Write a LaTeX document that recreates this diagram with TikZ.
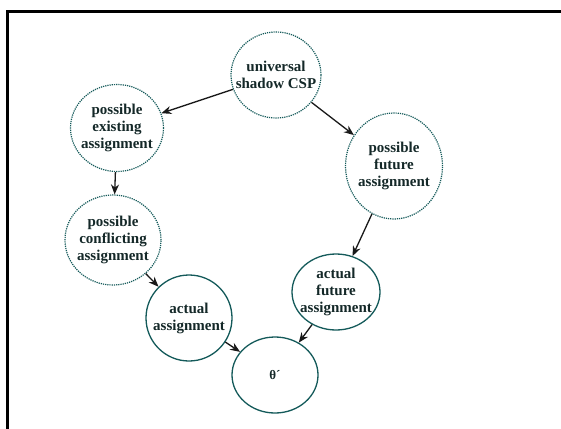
\documentclass[tikz,border=0pt]{standalone}
\usepackage{fontspec}
\setmainfont{Liberation Serif}
\usetikzlibrary{arrows.meta,shapes.geometric}
\definecolor{circ}{RGB}{20,90,90}
\definecolor{txt}{RGB}{20,40,40}
\tikzset{
  dotcirc/.style={ellipse, draw=circ, densely dotted, line width=1.2pt, inner sep=0pt},
  solcirc/.style={ellipse, draw=circ, line width=1.3pt, inner sep=0pt},
  lbl/.style={font=\fontsize{15}{17}\selectfont\bfseries, text=txt, align=center},
  conn/.style={draw=black!90, line width=1.3pt, -{Stealth[length=10pt,width=8pt]}},
}
\begin{document}
\begin{tikzpicture}[x=1pt,y=-1pt]
\useasboundingbox (0,0) rectangle (561,428);
\fill[white] (0,0) rectangle (561,428);
\draw[line width=3pt] (7.5,430) -- (7.5,11.5) -- (563,11.5);
\newcommand{\circnode}[6]{%
  \node[#1, minimum width=#4pt, minimum height=#5pt] (#2) at #3 {};
  \node[lbl] at (#2.center) {#6};}
\circnode{dotcirc}{usc}{(276,75)}{90}{86}{universal\\shadow CSP}
\circnode{dotcirc}{pea}{(117,128)}{93}{87}{possible\\existing\\assignment}
\circnode{dotcirc}{pfa}{(394,166)}{97}{106}{possible\\future\\assignment}
\circnode{dotcirc}{pca}{(113,240)}{96}{90}{possible\\conflicting\\assignment}
\circnode{solcirc}{aa}{(189,318)}{86}{86}{actual\\assignment}
\circnode{solcirc}{afa}{(336,292)}{88}{76}{actual\\future\\assignment}
\node[solcirc, minimum width=86pt, minimum height=76pt] (th) at (275,375) {};
\node[font=\fontsize{13}{15}\selectfont\bfseries, text=txt] at (th.center) {θ´};
\draw[conn] (usc) -- (pea);
\draw[conn] (usc) -- (pfa);
\draw[conn] (pea) -- (pca);
\draw[conn] (pca) -- (aa);
\draw[conn] (pfa) -- (afa);
\draw[conn] (aa) -- (th);
\draw[conn] (afa) -- (th);
\end{tikzpicture}
\end{document}
